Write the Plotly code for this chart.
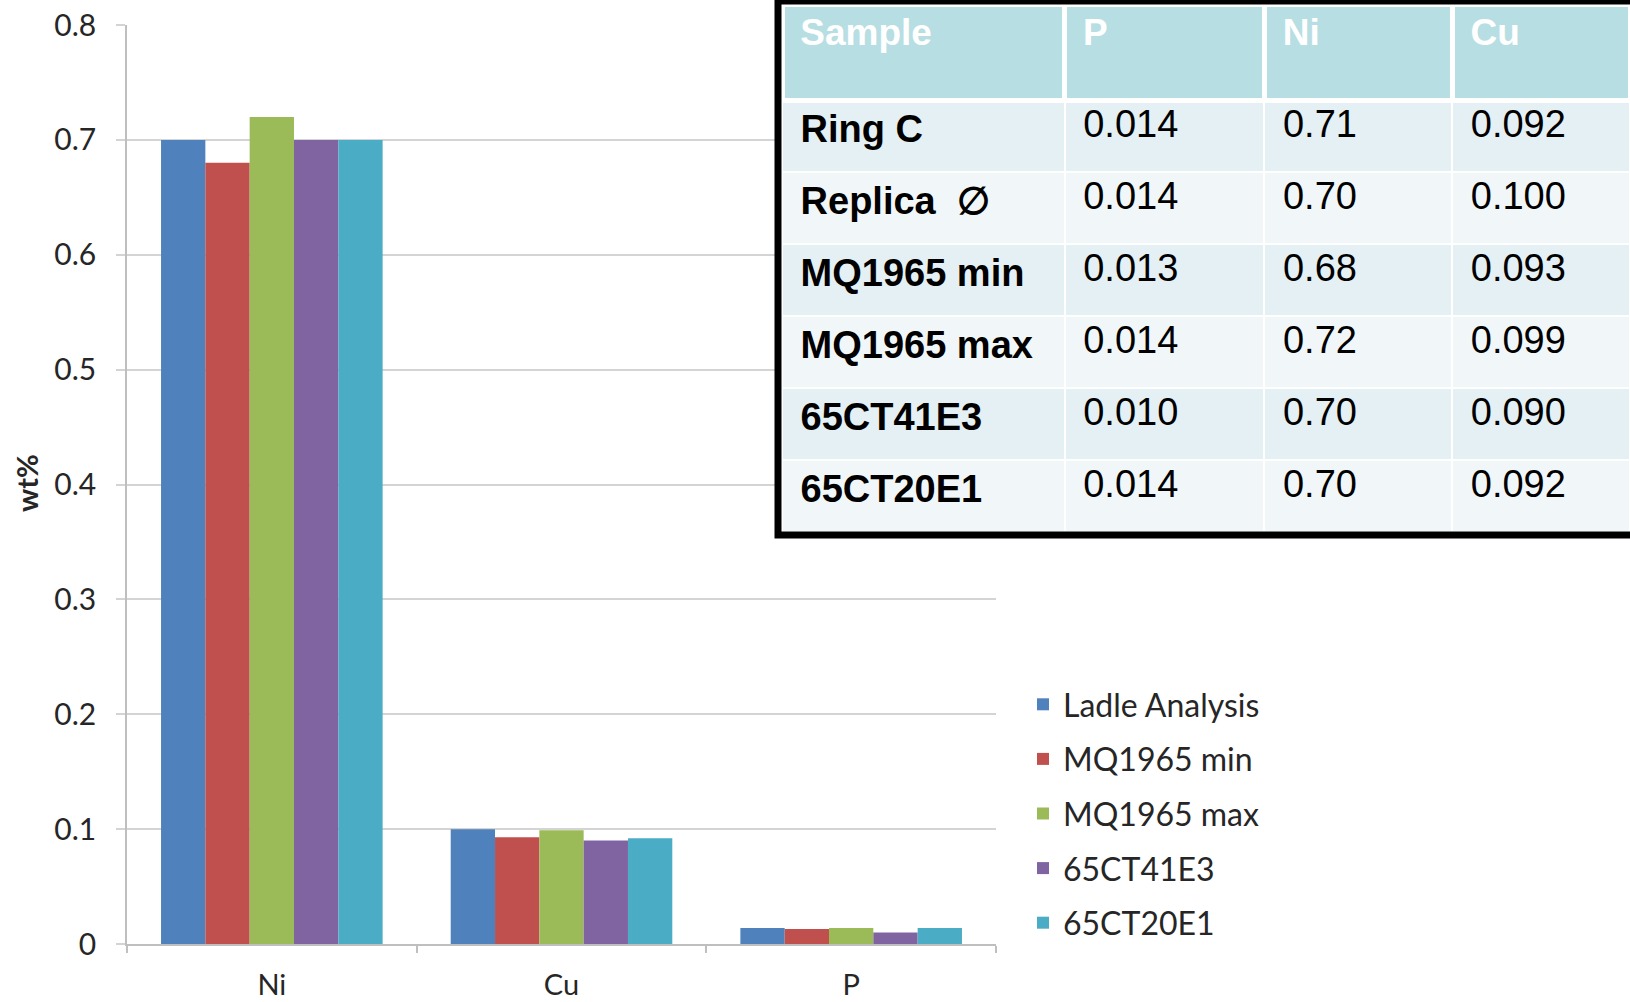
import plotly.graph_objects as go

W, H = 1630, 1002

# ---- data ----
categories = ["Ni", "Cu", "P"]
series_names = ["Ladle Analysis", "MQ1965 min", "MQ1965 max", "65CT41E3", "65CT20E1"]
ladle_analysis = [0.70, 0.100, 0.014]
mq1965_min = [0.68, 0.093, 0.013]
mq1965_max = [0.72, 0.099, 0.014]
ct41e3 = [0.70, 0.090, 0.010]
ct20e1 = [0.70, 0.092, 0.014]
series_values = [ladle_analysis, mq1965_min, mq1965_max, ct41e3, ct20e1]
series_colors = ["#4F81BD", "#C0504D", "#9BBB59", "#8064A2", "#4BACC6"]

y_tick_values = [0, 0.1, 0.2, 0.3, 0.4, 0.5, 0.6, 0.7, 0.8]
y_tick_labels = ["0", "0.1", "0.2", "0.3", "0.4", "0.5", "0.6", "0.7", "0.8"]

table_header = ["Sample", "P", "Ni", "Cu"]
table_sample = ["Ring C", "Replica\u00a0\u00a0\u2205", "MQ1965\u00a0min", "MQ1965\u00a0max", "65CT41E3", "65CT20E1"]
table_p = ["0.014", "0.014", "0.013", "0.014", "0.010", "0.014"]
table_ni = ["0.71", "0.70", "0.68", "0.72", "0.70", "0.70"]
table_cu = ["0.092", "0.100", "0.093", "0.099", "0.090", "0.092"]


def px_x(p):
    return p / W


def px_y(p):
    return 1 - p / H


fig = go.Figure()

for i, (name, vals, col) in enumerate(zip(series_names, series_values, series_colors)):
    fig.add_trace(go.Bar(
        x=categories, y=vals, name=name, marker=dict(color=col, line=dict(width=0)),
        legendgroup=f"g{i}",
    ))

table_font = "Liberation Sans"
row_fills = ["#E4F0F3" if i % 2 == 0 else "#F1F7F9" for i in range(len(table_sample))]
pad = "\u00a0"
fig.add_trace(go.Table(
    domain=dict(x=[px_x(782), 1.0], y=[px_y(532), px_y(4)]),
    columnwidth=[283, 200, 188, 178],
    header=dict(
        values=[f"<b>{pad}{h}</b>" for h in table_header],
        fill_color="#B7DEE2",
        font=dict(family=table_font, size=37, color="white"),
        align="left",
        height=96,
        line=dict(color="white", width=5),
    ),
    cells=dict(
        values=[[f"<b>{pad}{s}</b>" for s in table_sample],
                [pad + v for v in table_p],
                [pad + v for v in table_ni],
                [pad + v for v in table_cu]],
        fill_color=[row_fills] * 4,
        font=dict(family=table_font, size=38, color="black"),
        align="left",
        height=72,
        line=dict(color="white", width=2),
    ),
))

fig.add_shape(type="rect", xref="paper", yref="paper",
              x0=px_x(778), x1=px_x(1645), y0=px_y(535), y1=px_y(1),
              line=dict(color="black", width=7), fillcolor="rgba(0,0,0,0)", layer="above")

fig.add_annotation(text="<b>wt%</b>", x=px_x(27), y=px_y(483), xref="paper", yref="paper",
                   xanchor="center", yanchor="middle",
                   textangle=-90, showarrow=False,
                   font=dict(family="Lato", size=29, color="#262626"))

fig.update_layout(
    width=W, height=H,
    margin=dict(l=0, r=0, t=0, b=0, autoexpand=False),
    paper_bgcolor="white", plot_bgcolor="white",
    barmode="group", bargap=0.235, bargroupgap=0,
    showlegend=True,
    legend=dict(x=px_x(1023), y=px_y(677), xanchor="left", yanchor="top",
                font=dict(family="Lato", size=32, color="#262626"),
                bgcolor="rgba(0,0,0,0)", tracegroupgap=10, traceorder="grouped"),
    xaxis=dict(domain=[px_x(127), px_x(996)], type="category", automargin=False,
               showline=True, linecolor="#BFBFBF", linewidth=1.5,
               ticks="outside", tickson="boundaries", ticklen=7, tickcolor="#BFBFBF", tickwidth=1.5,
               showgrid=False, tickfont=dict(family="Lato", size=29, color="#262626"),
               ticklabelstandoff=14),
    yaxis=dict(domain=[px_y(944), px_y(25)], range=[0, 0.8], automargin=False,
               tickvals=y_tick_values, ticktext=y_tick_labels,
               showgrid=True, gridcolor="#D4D4D4", gridwidth=1.5,
               showline=True, linecolor="#BFBFBF", linewidth=1.5,
               ticks="outside", ticklen=9, tickcolor="#D4D4D4", tickwidth=1.5,
               zeroline=False, tickfont=dict(family="Lato", size=30, color="#262626"),
               ticklabelstandoff=14),
)

fig.write_html("out.html")
